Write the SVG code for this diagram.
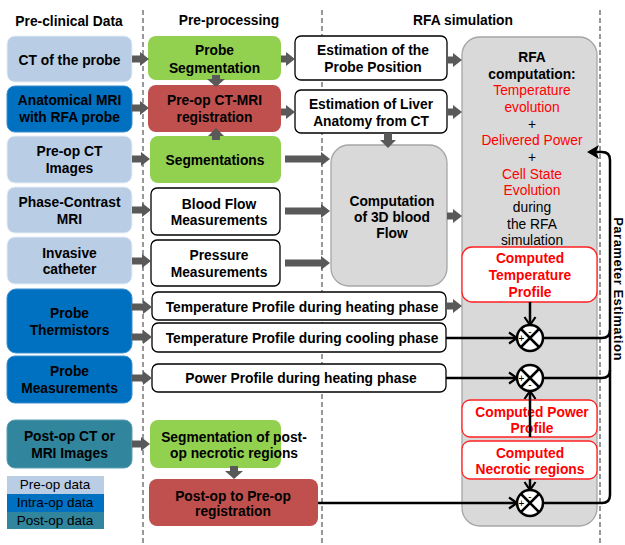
<svg xmlns="http://www.w3.org/2000/svg" width="625" height="545" viewBox="0 0 625 545">
<style>
text{font-family:"Liberation Sans",Arial,sans-serif;font-size:13.8px;fill:#000;text-anchor:middle}
.b{font-weight:bold}
.r{fill:#ff0000}
.lb{fill:#b9cde5;stroke:#e8eef7;stroke-width:1}
.db{fill:#0070c0;stroke:#3a8fd0;stroke-width:1}
.tl{fill:#31859c;stroke:#5aa0b3;stroke-width:1}
.gr{fill:#92d050}
.rd{fill:#c0504d}
.wh{fill:#fff;stroke:#000;stroke-width:1.3}
.gy{fill:#d9d9d9;stroke:#a6a6a6;stroke-width:1.3}
.cp{fill:#fff;stroke:#ff2020;stroke-width:1.3}
.dash{stroke:#333;stroke-width:1;stroke-dasharray:5,3;fill:none}
.ga{stroke:#595959;stroke-width:7;fill:none;marker-end:url(#gh)}
.gp{fill:#595959}
.bl{stroke:#000;stroke-width:2.5;fill:none}
.ba{stroke:#000;stroke-width:2.5;fill:none;marker-end:url(#ch)}
.sj{fill:#fff;stroke:#000;stroke-width:2.5}
.sg{font-size:10px}
.lg{font-size:13.5px}
</style>
<defs>
<marker id="gh" markerUnits="userSpaceOnUse" markerWidth="9" markerHeight="14" refX="0" refY="7" orient="auto" viewBox="0 0 9 14">
<path d="M0,0 L9,7 L0,14 z" fill="#595959"/>
</marker>
<marker id="ch" markerUnits="userSpaceOnUse" markerWidth="12" markerHeight="14" refX="9" refY="7" orient="auto" viewBox="0 0 12 14">
<path d="M1,1.5 L9,7 L1,12.5" fill="none" stroke="#000" stroke-width="2.2"/>
</marker>
</defs>

<!-- column separators -->
<g id="separators">
<line class="dash" x1="143" y1="10" x2="143" y2="545"/>
<line class="dash" x1="322" y1="10" x2="322" y2="545"/>
<line class="dash" x1="600" y1="10" x2="600" y2="545"/>
</g>

<g id="headers">
<text class="b" x="69" y="26">Pre-clinical Data</text>
<text class="b" x="229" y="25">Pre-processing</text>
<text class="b" x="463" y="25">RFA simulation</text>
</g>

<!-- Pre-clinical data -->
<g id="ct-probe"><rect class="lb" x="7" y="36" width="125" height="46" rx="8"/><text class="b" x="69.5" y="65">CT of the probe</text></g>
<g id="anat-mri"><rect class="db" x="7" y="86" width="125" height="46" rx="8"/><text class="b" x="69.5" y="105">Anatomical MRI</text><text class="b" x="69.5" y="122">with RFA probe</text></g>
<g id="preop-ct"><rect class="lb" x="7" y="136" width="125" height="47" rx="8"/><text class="b" x="69.5" y="156">Pre-op CT</text><text class="b" x="69.5" y="173">Images</text></g>
<g id="pc-mri"><rect class="lb" x="7" y="187" width="125" height="46" rx="8"/><text class="b" x="69.5" y="207">Phase-Contrast</text><text class="b" x="69.5" y="224">MRI</text></g>
<g id="catheter"><rect class="lb" x="7" y="237" width="125" height="47" rx="8"/><text class="b" x="69.5" y="258">Invasive</text><text class="b" x="69.5" y="274">catheter</text></g>
<g id="thermistors"><rect class="db" x="7" y="289" width="125" height="64" rx="9"/><text class="b" x="69.5" y="318">Probe</text><text class="b" x="69.5" y="335">Thermistors</text></g>
<g id="probe-meas"><rect class="db" x="7" y="356" width="125" height="47" rx="8"/><text class="b" x="69.5" y="376">Probe</text><text class="b" x="69.5" y="393">Measurements</text></g>
<g id="postop-ct"><rect class="tl" x="7" y="420" width="125" height="48" rx="8"/><text class="b" x="69.5" y="441">Post-op CT or</text><text class="b" x="69.5" y="458">MRI Images</text></g>

<g id="legend">
<rect x="7" y="476" width="97" height="18" fill="#b9cde5"/><text class="lg" x="55" y="489">Pre-op data</text>
<rect x="7" y="494" width="97" height="18" fill="#0070c0"/><text class="lg" x="55" y="507">Intra-op data</text>
<rect x="7" y="512" width="97" height="17" fill="#31859c"/><text class="lg" x="55" y="525">Post-op data</text>
</g>

<!-- Pre-processing -->
<g id="probe-seg"><rect class="gr" x="148" y="36" width="133" height="44" rx="8"/><text class="b" x="214.5" y="55">Probe</text><text class="b" x="214.5" y="73">Segmentation</text></g>
<g id="ct-mri-reg"><rect class="rd" x="148" y="85" width="133" height="47" rx="8"/><text class="b" x="214.5" y="105">Pre-op CT-MRI</text><text class="b" x="214.5" y="122">registration</text></g>
<g id="segmentations"><rect class="gr" x="150" y="136" width="131" height="47" rx="8"/><text class="b" x="215" y="165">Segmentations</text></g>
<g id="blood-flow"><rect class="wh" x="151" y="188" width="129" height="47" rx="6"/><text class="b" x="219" y="209">Blood Flow</text><text class="b" x="219" y="225">Measurements</text></g>
<g id="pressure"><rect class="wh" x="151" y="240" width="129" height="46" rx="6"/><text class="b" x="219" y="260">Pressure</text><text class="b" x="219" y="277">Measurements</text></g>
<g id="temp-heat"><rect class="wh" x="152" y="292" width="294" height="28" rx="6"/><text class="b" x="302" y="312">Temperature Profile during heating phase</text></g>
<g id="temp-cool"><rect class="wh" x="152" y="323" width="294" height="29" rx="6"/><text class="b" x="302" y="343">Temperature Profile during cooling phase</text></g>
<g id="power-prof"><rect class="wh" x="152" y="364" width="294" height="28" rx="6"/><text class="b" x="301" y="383">Power Profile during heating phase</text></g>
<g id="postop-seg"><rect class="gr" x="150" y="420" width="131" height="48" rx="8"/><text class="b" x="234" y="442">Segmentation of post-</text><text class="b" x="234" y="458">op necrotic regions</text></g>
<g id="postop-reg"><rect class="rd" x="149" y="479" width="169" height="47" rx="8"/><text class="b" x="233" y="501">Post-op to Pre-op</text><text class="b" x="233" y="516">registration</text></g>

<!-- RFA simulation -->
<g id="probe-pos"><rect class="wh" x="295" y="36" width="152" height="44" rx="6"/><text class="b" x="373" y="55">Estimation of the</text><text class="b" x="373" y="72">Probe Position</text></g>
<g id="liver"><rect class="wh" x="295" y="90" width="152" height="43" rx="6"/><text class="b" x="371" y="109">Estimation of Liver</text><text class="b" x="371" y="126">Anatomy from CT</text></g>
<g id="blood-3d"><rect class="gy" x="331" y="145" width="116" height="141" rx="18"/><text class="b" x="392" y="206">Computation</text><text class="b" x="392" y="222">of 3D blood</text><text class="b" x="392" y="238">Flow</text></g>
<g id="rfa-comp"><rect class="gy" x="462" y="37" width="135" height="489" rx="18"/>
<text class="b" x="532" y="62">RFA</text>
<text class="b" x="532" y="79">computation:</text>
<text class="r" x="532" y="95">Temperature</text>
<text class="r" x="532" y="112">evolution</text>
<text x="532" y="129">+</text>
<text class="r" x="532" y="145">Delivered Power</text>
<text x="532" y="162">+</text>
<text class="r" x="532" y="179">Cell State</text>
<text class="r" x="532" y="195">Evolution</text>
<text x="532" y="212">during</text>
<text x="532" y="229">the RFA</text>
<text x="532" y="245">simulation</text>
</g>
<g id="comp-temp"><rect class="cp" x="462" y="247" width="135" height="55" rx="10"/><text class="b r" x="530" y="263">Computed</text><text class="b r" x="530" y="280">Temperature</text><text class="b r" x="530" y="297">Profile</text></g>
<g id="comp-power"><rect class="cp" x="462" y="400" width="135" height="37" rx="8"/><text class="b r" x="532" y="417">Computed Power</text><text class="b r" x="532" y="433">Profile</text></g>
<g id="comp-necro"><rect class="cp" x="462" y="441" width="135" height="38" rx="8"/><text class="b r" x="530" y="458">Computed</text><text class="b r" x="530" y="474">Necrotic regions</text></g>

<!-- connectors -->
<g id="connectors">
<line class="ga" x1="132" y1="59" x2="140" y2="59"/>
<line class="ga" x1="132" y1="108" x2="140" y2="108"/>
<line class="ga" x1="132" y1="159" x2="141" y2="159"/>
<line class="ga" x1="132" y1="210" x2="142" y2="210"/>
<line class="ga" x1="132" y1="261" x2="142" y2="261"/>
<line class="ga" x1="132" y1="307" x2="143" y2="307"/>
<line class="ga" x1="132" y1="337" x2="143" y2="337"/>
<line class="ga" x1="132" y1="378" x2="143" y2="378"/>
<line class="ga" x1="132" y1="444" x2="141" y2="444"/>
<line class="ga" x1="281" y1="59" x2="286" y2="59"/>
<line class="ga" x1="281" y1="112" x2="286" y2="112"/>
<line class="ga" x1="447" y1="60" x2="453" y2="60"/>
<line class="ga" x1="447" y1="112" x2="453" y2="112"/>
<line class="ga" x1="285" y1="159" x2="321" y2="159"/>
<line class="ga" x1="285" y1="211" x2="321" y2="211"/>
<line class="ga" x1="285" y1="263" x2="321" y2="263"/>
<line class="ga" x1="447" y1="216" x2="453" y2="216"/>
<line class="ga" x1="447" y1="306" x2="453" y2="306"/>
<path class="gp" d="M212,75 h8 v4 h5 l-9,8 l-9,-8 h5 z"/>
<path class="gp" d="M216,128 l8,8 h-4 v4 h-8 v-4 h-4 z"/>
<path class="gp" d="M384,133 h8 v7 h4 l-8,8 l-8,-8 h4 z"/>
<path class="gp" d="M230,466 h8 v5 h5 l-9,8 l-9,-8 h5 z"/>

<line class="ba" x1="446" y1="338" x2="517" y2="338"/>
<line class="ba" x1="446" y1="378" x2="517" y2="378"/>
<line class="ba" x1="318" y1="503" x2="517" y2="503"/>
<line class="ba" x1="530" y1="302" x2="530" y2="325"/>
<line class="ba" x1="530" y1="437" x2="530" y2="391"/>
<line class="ba" x1="530" y1="479" x2="530" y2="490"/>

<path class="bl" d="M543,503 H602 Q610,503 610,495 V160 Q610,152 602,152 H595"/>
<path class="bl" d="M543,338 H602 Q610,338 610,330"/>
<path class="bl" d="M543,378 H602 Q610,378 610,370"/>
<path d="M587,152 L599,145 L596,152 L599,159 z" fill="#000"/>
</g>

<g id="sum1"><circle class="sj" cx="530" cy="338" r="13"/><path class="bl" d="M521,329 L539,347 M539,329 L521,347" stroke-width="2"/><text class="sg" x="530" y="335">-</text><text class="sg" x="521.5" y="342">+</text></g>
<g id="sum2"><circle class="sj" cx="530" cy="378" r="13"/><path class="bl" d="M521,369 L539,387 M539,369 L521,387" stroke-width="2"/><text class="sg" x="521.5" y="382">+</text><text class="sg" x="530" y="388">-</text></g>
<g id="sum3"><circle class="sj" cx="530" cy="503" r="13"/><path class="bl" d="M521,494 L539,512 M539,494 L521,512" stroke-width="2"/><text class="sg" x="530" y="500">-</text><text class="sg" x="521.5" y="507">+</text></g>

<text class="b" transform="translate(614,289) rotate(90)" style="font-size:13px;letter-spacing:0.5px">Parameter Estimation</text>
</svg>
